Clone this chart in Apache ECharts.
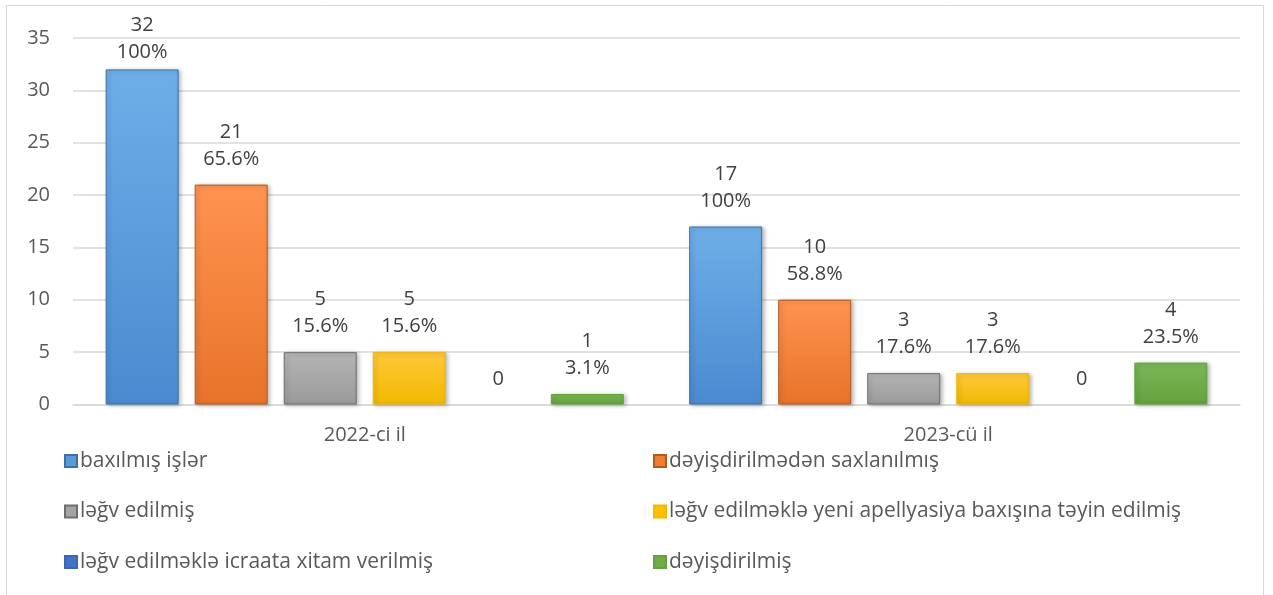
<!DOCTYPE html>
<html>
<head>
<meta charset="utf-8">
<script src="https://cdn.jsdelivr.net/npm/echarts@6/dist/echarts.min.js"></script>
<style>
  html, body { margin: 0; padding: 0; background: #ffffff; }
  #chart { width: 1273px; height: 595px; }
</style>
</head>
<body>
<div id="chart"></div>
<script>
// Categories (years) and series names
const categories = ['2022-ci il', '2023-cü il'];
const seriesNames = [
  'baxılmış işlər',
  'dəyişdirilmədən saxlanılmış',
  'ləğv edilmiş',
  'ləğv edilməklə yeni apellyasiya baxışına təyin edilmiş',
  'ləğv edilməklə icraata xitam verilmiş',
  'dəyişdirilmiş'
];

// Case counts per series, one value per year
const reviewed      = [32, 17];
const unchanged     = [21, 10];
const annulled      = [5, 3];
const annulledNew   = [5, 3];
const annulledEnded = [0, 0];
const modified      = [1, 4];

// Shares of reviewed cases shown under each count
const reviewedPct      = ['100%', '100%'];
const unchangedPct     = ['65.6%', '58.8%'];
const annulledPct      = ['15.6%', '17.6%'];
const annulledNewPct   = ['15.6%', '17.6%'];
const annulledEndedPct = ['', ''];
const modifiedPct      = ['3.1%', '23.5%'];

// Y-axis ticks
const yTicks = [0, 5, 10, 15, 20, 25, 30, 35];

const values = [reviewed, unchanged, annulled, annulledNew, annulledEnded, modified];
const pcts = [reviewedPct, unchangedPct, annulledPct, annulledNewPct, annulledEndedPct, modifiedPct];

const FONT = '"Open Sans", sans-serif';

function vgrad(top, bottom) {
  return new echarts.graphic.LinearGradient(0, 0, 0, 1, [
    { offset: 0, color: top },
    { offset: 1, color: bottom }
  ]);
}

// Fill styles per series
const styles = [
  { color: vgrad('#6eaee8', '#4a8bd0'), border: '#3d6fa8', flat: '#5b9bd5' },
  { color: vgrad('#ff9350', '#e8732a'), border: '#b35a1f', flat: '#ed7d31' },
  { color: vgrad('#b5b5b5', '#9a9a9a'), border: '#6e6e6e', flat: '#a5a5a5' },
  { color: vgrad('#ffc83a', '#f2b900'), border: '#f2b900', flat: '#ffc000' },
  { color: vgrad('#4f7fd0', '#3b66b5'), border: '#3b66b5', flat: '#4472c4' },
  { color: vgrad('#7cb858', '#64a23c'), border: '#64a23c', flat: '#70ad47' }
];

const series = seriesNames.map((name, s) => ({
  name: name,
  type: 'bar',
  barGap: '22%',
  barCategoryGap: '11.2%',
  data: values[s].map((v, i) => {
    const item = { value: v };
    // Zero-height bars leave no outline or shadow
    if (v === 0) item.itemStyle = { borderWidth: 0, shadowBlur: 0, shadowOffsetX: 0, shadowOffsetY: 0, opacity: 0 };
    // Tallest bar: its label is kept inside the chart frame
    if (s === 0 && i === 0) item.label = { offset: [0, 8] };
    return item;
  }),
  itemStyle: {
    color: styles[s].color,
    borderColor: styles[s].border,
    borderWidth: 1,
    shadowColor: 'rgba(0,0,0,0.28)',
    shadowBlur: 4,
    shadowOffsetX: 2,
    shadowOffsetY: 1
  },
  label: {
    show: true,
    position: 'top',
    distance: 12,
    color: '#404040',
    fontFamily: FONT,
    fontSize: 20,
    lineHeight: 27,
    opacity: 1,
    formatter: (p) => {
      const pc = pcts[s][p.dataIndex];
      return pc ? p.value + '\n' + pc : String(p.value);
    }
  },
  emphasis: { disabled: true }
}));

const legendCommon = {
  orient: 'vertical',
  padding: 0,
  itemWidth: 12,
  itemHeight: 12,
  itemGap: 28.5,
  icon: 'rect',
  textStyle: { color: '#595959', fontFamily: FONT, fontSize: 21, lineHeight: 22, padding: [0, 0, 0, -2] },
  selectedMode: false
};

const chart = echarts.init(document.getElementById('chart'), null, { renderer: 'canvas' });
chart.setOption({
  animation: false,
  backgroundColor: '#ffffff',
  graphic: [{
    type: 'rect',
    shape: { x: 6.5, y: 5.5, width: 1257, height: 600 },
    style: { fill: 'none', stroke: '#d9d9d9', lineWidth: 1 },
    silent: true,
    z: -1
  }],
  grid: { left: 73, right: 33, top: 38, bottom: 190.5, containLabel: false },
  legend: [
    Object.assign({}, legendCommon, {
      left: 64, top: 450,
      data: [0, 2, 4].map(i => ({ name: seriesNames[i], itemStyle: { color: styles[i].flat } }))
    }),
    Object.assign({}, legendCommon, {
      left: 653, top: 450,
      data: [1, 3, 5].map(i => ({ name: seriesNames[i], itemStyle: { color: styles[i].flat } }))
    })
  ],
  xAxis: {
    type: 'category',
    data: categories,
    axisTick: { show: false },
    axisLine: { show: true, lineStyle: { color: '#d9d9d9', width: 1.5 } },
    axisLabel: { color: '#595959', fontFamily: FONT, fontSize: 20, margin: 21 }
  },
  yAxis: {
    type: 'value',
    min: yTicks[0],
    max: yTicks[yTicks.length - 1],
    interval: yTicks[1] - yTicks[0],
    axisLine: { show: false },
    axisTick: { show: false },
    splitLine: { lineStyle: { color: '#d9d9d9', width: 1.5 } },
    axisLabel: { color: '#595959', fontFamily: FONT, fontSize: 20, margin: 23 }
  },
  series: series
});
</script>
</body>
</html>
